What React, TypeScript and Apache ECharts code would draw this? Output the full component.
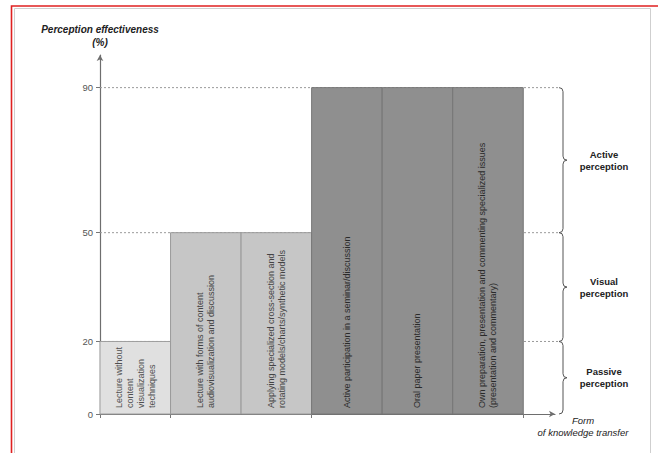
import React, { useEffect, useRef } from "react";
import * as echarts from "echarts";

// ---- data ----
const categories: string[] = [
  "Lecture without\ncontent\nvisualization\ntechniques",
  "Lecture with forms of content\naudiovisualization and discussion",
  "Applying specialized cross-section and\nrotating models/charts/synthetic models",
  "Active participation in a seminar/discussion",
  "Oral paper presentation",
  "Own preparation, presentation and commenting specialized issues\n(presentation and commentary)",
];
const effectiveness: number[] = [20, 50, 50, 90, 90, 90];
const yTickValues: number[] = [0, 20, 50, 90];
const groupBoundaries: number[] = [0, 1, 3, 6];
const levelNames: string[] = ["Active\nperception", "Visual\nperception", "Passive\nperception"];
const levelLow: number[] = [50, 20, 0];
const levelHigh: number[] = [90, 50, 20];

const FONT = "'Liberation Sans', Arial, sans-serif";

function fillFor(v: number) {
  if (v >= 90) return { fill: "#8f8f8f", stroke: "#767676", text: "#2a2a2a" };
  if (v >= 50) return { fill: "#c6c6c6", stroke: "#9a9a9a", text: "#444444" };
  return { fill: "#e0e0e0", stroke: "#9e9e9e", text: "#505050" };
}

export default function App() {
  const ref = useRef<HTMLDivElement>(null);
  useEffect(() => {
    if (!ref.current) return;
    const chart = echarts.init(ref.current, undefined, { renderer: "svg" });
    const X_MAX = 6.45;
    const option: any = {
      animation: false,
      backgroundColor: "#ffffff",
      textStyle: { fontFamily: FONT },
      grid: { left: 100, right: 103, top: 55, bottom: 39, containLabel: false },
      xAxis: {
        type: "value",
        min: 0,
        max: X_MAX,
        splitLine: { show: false },
        axisLabel: { show: false },
        axisLine: {
          show: true,
          lineStyle: { color: "#6e6e6e", width: 1.2 },
          symbol: ["none", "arrow"],
          symbolSize: [5, 6],
        },
        axisTick: {
          show: true,
          customValues: groupBoundaries,
          length: 4,
          lineStyle: { color: "#777" },
        },
      },
      yAxis: {
        type: "value",
        min: 0,
        max: 99,
        name: "Perception effectiveness\n(%)",
        nameLocation: "end",
        nameGap: 6,
        nameTextStyle: {
          fontStyle: "italic",
          fontWeight: "bold",
          fontSize: 10,
          color: "#222",
          lineHeight: 13,
          align: "center",
          fontFamily: FONT,
        },
        splitLine: { show: false },
        axisLine: {
          show: true,
          lineStyle: { color: "#6e6e6e", width: 1.2 },
          symbol: ["none", "arrow"],
          symbolSize: [5, 6],
        },
        axisTick: {
          show: true,
          customValues: yTickValues,
          length: 4,
          lineStyle: { color: "#777" },
        },
        axisLabel: {
          customValues: yTickValues,
          margin: 7,
          fontSize: 9.5,
          color: "#555",
          fontFamily: FONT,
        },
      },
      series: [
        {
          type: "custom",
          z: 1,
          clip: false,
          encode: { x: 0, y: [1, 2] },
          data: levelNames.map((n, i) => [i, levelLow[i], levelHigh[i]]),
          renderItem: (params: any, api: any) => {
            const idx = api.value(0);
            const lo = api.value(1);
            const hi = api.value(2);
            const pStart = api.coord([0, hi]);
            const pEnd = api.coord([X_MAX, lo]);
            const yt = pStart[1];
            const yb = pEnd[1];
            const ym = (yt + yb) / 2;
            const bx = pEnd[0] + 8;
            const d =
              `M ${bx - 4} ${yt} Q ${bx} ${yt} ${bx} ${yt + 4} L ${bx} ${ym - 4} ` +
              `Q ${bx} ${ym} ${bx + 4} ${ym} Q ${bx} ${ym} ${bx} ${ym + 4} ` +
              `L ${bx} ${yb - 4} Q ${bx} ${yb} ${bx - 4} ${yb}`;
            return {
              type: "group",
              children: [
                {
                  type: "line",
                  shape: { x1: pStart[0], y1: yt, x2: bx - 3, y2: yt },
                  style: { stroke: "#9a9a9a", lineWidth: 1, lineDash: [2, 2] },
                },
                {
                  type: "path",
                  shape: { pathData: d },
                  style: { stroke: "#555", lineWidth: 1, fill: "none" },
                },
                {
                  type: "text",
                  x: bx + 41,
                  y: ym,
                  style: {
                    text: levelNames[idx],
                    align: "center",
                    verticalAlign: "middle",
                    fontSize: 9.5,
                    fontWeight: "bold",
                    lineHeight: 12,
                    fill: "#222",
                    fontFamily: FONT,
                  },
                },
              ],
            };
          },
        },
        {
          type: "custom",
          z: 3,
          encode: { x: 0, y: 1 },
          data: effectiveness.map((v, i) => [i, v]),
          renderItem: (params: any, api: any) => {
            const i = api.value(0);
            const v = api.value(1);
            const p0 = api.coord([i, 0]);
            const p1 = api.coord([i + 1, v]);
            const c = fillFor(v);
            return {
              type: "group",
              children: [
                {
                  type: "rect",
                  shape: { x: p0[0], y: p1[1], width: p1[0] - p0[0], height: p0[1] - p1[1] },
                  style: { fill: c.fill, stroke: c.stroke, lineWidth: 1 },
                },
                {
                  type: "text",
                  x: (p0[0] + p1[0]) / 2,
                  y: p0[1] - 6,
                  rotation: Math.PI / 2,
                  style: {
                    text: categories[i],
                    align: "left",
                    verticalAlign: "middle",
                    fontSize: 9,
                    lineHeight: 11,
                    fill: c.text,
                    fontFamily: FONT,
                  },
                },
              ],
            };
          },
        },
      ],
      graphic: [
        {
          type: "rect",
          silent: true,
          shape: { x: 11.5, y: 6, width: 700, height: 500 },
          style: { fill: "none", stroke: "#e02020", lineWidth: 1.6 },
        },
        {
          type: "rect",
          silent: true,
          shape: { x: 14.5, y: 8.5, width: 636, height: 500 },
          style: { fill: "none", stroke: "#cfcfcf", lineWidth: 1 },
        },
        {
          type: "text",
          x: 583,
          y: 426,
          style: {
            text: "Form\nof knowledge transfer",
            align: "center",
            verticalAlign: "middle",
            fontSize: 9.5,
            fontStyle: "italic",
            lineHeight: 12,
            fill: "#222",
            fontFamily: FONT,
          },
        },
      ],
    };
    chart.setOption(option);
    return () => chart.dispose();
  }, []);
  return (
    <div
      ref={ref}
      style={{ position: "fixed", left: 0, top: 0, width: 658, height: 453 }}
    />
  );
}
